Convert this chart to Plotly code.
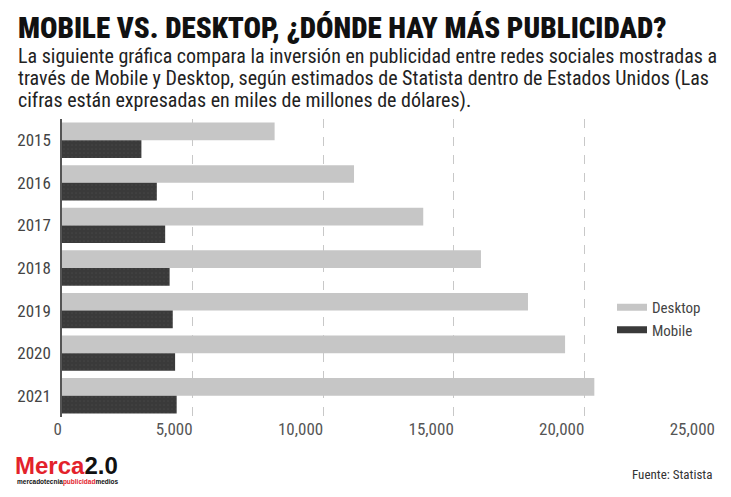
import plotly.graph_objects as go

# Datos (millones de dólares)
years = ["2015", "2016", "2017", "2018", "2019", "2020", "2021"]
desktop = [8140, 11180, 13830, 16040, 17840, 19260, 20380]
mobile = [3040, 3630, 3950, 4120, 4240, 4330, 4390]
tick_vals = [0, 5000, 10000, 15000, 20000, 25000]
tick_text = ["0", "5,000", "10,000", "15,000", "20,000", "25,000"]

# la página tiene 8px de margen en el body
OFF = 8
W, H = 731 - OFF, 497 - OFF
L, R, T, B = 62 - OFF, 16, 119 - OFF, 80
FONT = "Roboto Condensed, Roboto, sans-serif"


def px(x):
    # pixel de la ventana -> coordenada paper en x
    return (x - OFF - L) / (W - L - R)


def py(y):
    return 1 - (y - OFF - T) / (H - T - B)


fig = go.Figure()
fig.add_trace(go.Bar(y=years, x=desktop, orientation="h", name="Desktop",
                     marker=dict(color="#c6c6c6", line_width=0), showlegend=False))
fig.add_trace(go.Bar(y=years, x=mobile, orientation="h", name="Mobile",
                     marker=dict(color="#3a3a3a", line_width=0,
                                 pattern=dict(shape=".", fgcolor="#4e4e4e", bgcolor="#3a3a3a",
                                              size=4, solidity=0.15)),
                     showlegend=False))
# solo leyenda
fig.add_trace(go.Scatter(x=[None], y=[None], mode="lines", name="Desktop",
                         line=dict(color="#c6c6c6", width=7)))
fig.add_trace(go.Scatter(x=[None], y=[None], mode="lines", name="Mobile",
                         line=dict(color="#3a3a3a", width=7)))

fig.update_layout(
    width=W, height=H,
    margin=dict(l=L, r=R, t=T, b=B),
    paper_bgcolor="white", plot_bgcolor="white",
    barmode="group", bargap=0.17, bargroupgap=0,
    font=dict(family=FONT, color="#444444", size=15),
    showlegend=True,
    legend=dict(x=px(612), y=py(291), xanchor="left", yanchor="top",
                font=dict(size=15, color="#444444"), itemwidth=30,
                bgcolor="rgba(0,0,0,0)", tracegroupgap=5),
    xaxis=dict(range=[0, 25000], tickvals=tick_vals, ticktext=tick_text,
               showgrid=True, gridcolor="#c8c8c8", griddash="dash", gridwidth=1,
               zeroline=False, showline=False, ticks="", automargin=False,
               ticklabelposition="outside left",
               tickfont=dict(size=17, color="#555555")),
    yaxis=dict(autorange="reversed", showgrid=False, zeroline=False, automargin=False,
               showline=True, linecolor="#555555", linewidth=1.5,
               ticks="outside", ticklen=6, tickcolor="rgba(0,0,0,0)",
               tickfont=dict(size=17, color="#444444")),
)

fig.add_annotation(text="MOBILE VS. DESKTOP, ¿DÓNDE HAY MÁS PUBLICIDAD?",
                   xref="paper", yref="paper", x=px(16), y=py(28), xanchor="left",
                   yanchor="middle", showarrow=False,
                   font=dict(size=29, color="#111111", family=FONT, weight=900))
sub = [
    "La siguiente gráfica compara la inversión en publicidad entre redes sociales mostradas a",
    "través de Mobile y Desktop, según estimados de Statista dentro de Estados Unidos (Las",
    "cifras están expresadas en miles de millones de dólares).",
]
for i, line in enumerate(sub):
    fig.add_annotation(text=line, xref="paper", yref="paper", x=px(16), y=py(56 + 22 * i),
                       xanchor="left", yanchor="middle", showarrow=False,
                       font=dict(size=20, color="#222222", family=FONT))

fig.add_annotation(text="<b><span style='color:#e3222b'>Merca</span>2.0</b>",
                   xref="paper", yref="paper", x=px(13), y=py(465), xanchor="left",
                   yanchor="middle", showarrow=False,
                   font=dict(size=24, color="#111111", family="Liberation Sans, Arial"))
fig.add_annotation(text="<b>mercadotecnia<span style='color:#e3222b'>publicidad</span>medios</b>",
                   xref="paper", yref="paper", x=px(15), y=py(482), xanchor="left",
                   yanchor="middle", showarrow=False,
                   font=dict(size=6.5, color="#111111", family="Liberation Sans, Arial"))
fig.add_annotation(text="Fuente: Statista", xref="paper", yref="paper", x=px(714), y=py(474),
                   xanchor="right", yanchor="middle", showarrow=False,
                   font=dict(size=13, color="#333333", family=FONT))

fig.write_html("out.html")
